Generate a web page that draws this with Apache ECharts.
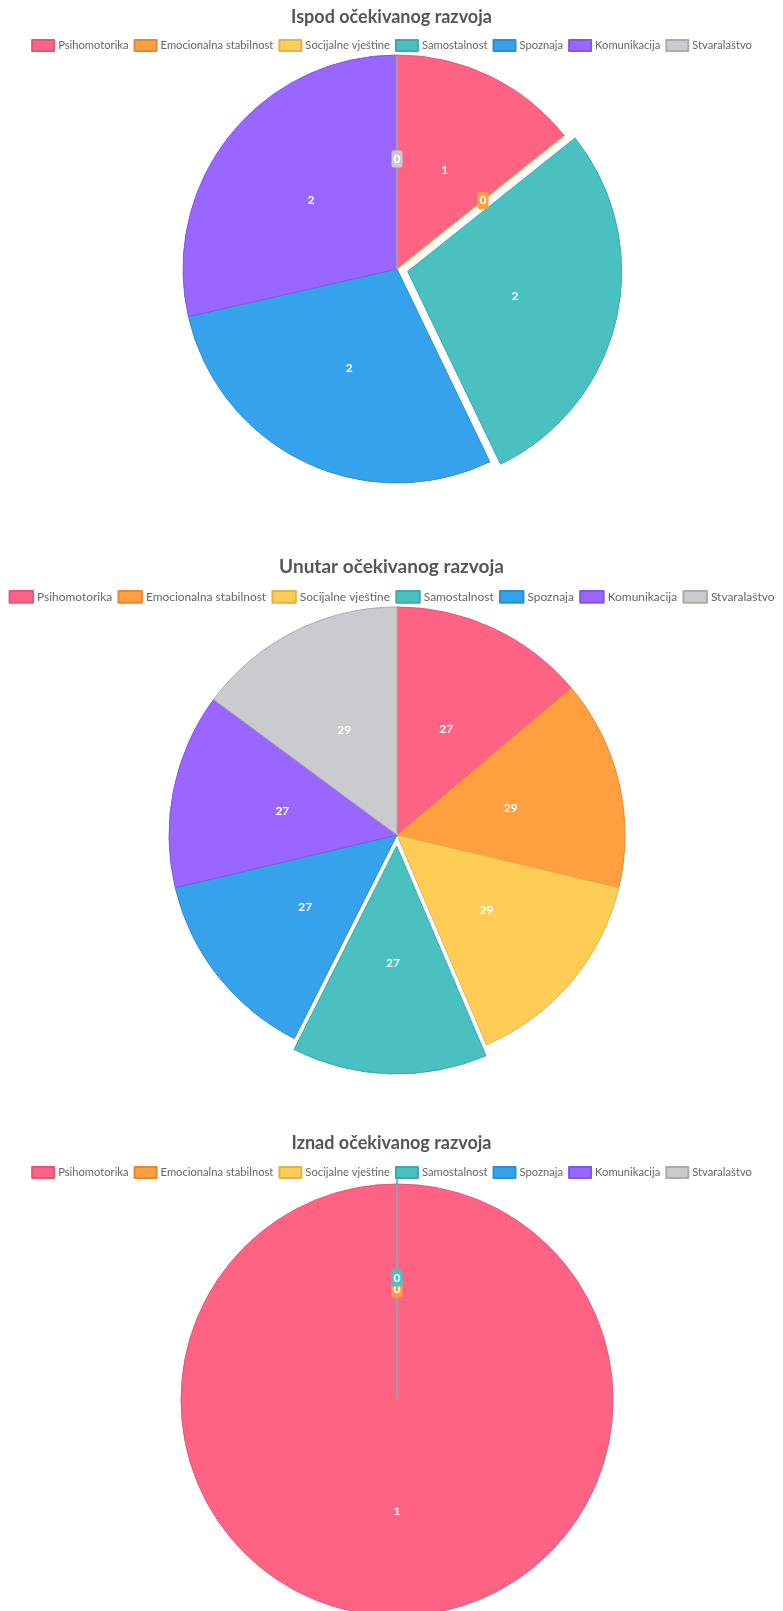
<!DOCTYPE html>
<html>
<head>
<meta charset="utf-8">
<title>Razvoj</title>
<script src="https://cdn.jsdelivr.net/npm/echarts@6/dist/echarts.min.js"></script>
<style>
  body { margin: 0; background: #fff; }
  #main { width: 783px; height: 1611px; }
</style>
</head>
<body>
<div id="main"></div>
<script>
// podaci
var categories = ['Psihomotorika', 'Emocionalna stabilnost', 'Socijalne vještine', 'Samostalnost', 'Spoznaja', 'Komunikacija', 'Stvaralaštvo'];
var titles = ['Ispod očekivanog razvoja', 'Unutar očekivanog razvoja', 'Iznad očekivanog razvoja'];
var ispod = [1, 0, 0, 2, 2, 2, 0];
var unutar = [27, 29, 29, 27, 27, 27, 29];
var iznad = [1, 0, 0, 0, 0, 0, 0];

var colors = ['#ff6384', '#ff9f40', '#ffcd56', '#4bc0c0', '#36a2eb', '#9966ff', '#c9cbcf'];
var borders = ['#e5577a', '#e08a35', '#e0b448', '#3fa9a9', '#2e8fd0', '#8358e0', '#a9abaf'];

var chart = echarts.init(document.getElementById('main'));

// raspored svakog kruga
var layout = [
  { titleTop: 8, legendTop: 39, cy: 269, r: 214, s: 1 },
  { titleTop: 557, legendTop: 590, cy: 835, r: 228, s: 1.066 },
  { titleTop: 1134, legendTop: 1166, cy: 1400, r: 216, s: 1 }
];
var allData = [ispod, unutar, iznad];
var hiddenLabels = [[2], [], [2, 4, 5, 6]]; // nule koje original ne ispisuje

var title = [], legend = [], series = [];
layout.forEach(function (L, k) {
  title.push({
    text: titles[k],
    left: 'center',
    top: L.titleTop,
    padding: 0,
    textStyle: { fontFamily: 'Lato', fontSize: Math.round(18 * L.s), fontWeight: 'bold', color: '#555' }
  });
  legend.push({
    data: categories,
    top: L.legendTop,
    left: 'center',
    width: 783,
    padding: 0,
    itemWidth: 22 * L.s,
    itemHeight: 11 * L.s,
    itemGap: 5 * L.s,
    icon: 'rect',
    selectedMode: false,
    textStyle: { fontFamily: 'Lato', fontSize: 11.2 * L.s, color: '#666', padding: [0, 0, 0, -1] }
  });
  var vals = allData[k];
  series.push({
    type: 'pie',
    center: [397, L.cy],
    radius: [0, L.r],
    startAngle: 90,
    clockwise: true,
    selectedMode: 'multiple',
    selectedOffset: 11,
    animation: false,
    emphasis: { disabled: true },
    labelLayout: { hideOverlap: false },
    label: {
      show: true,
      position: 'inside',
      formatter: '{c}',
      color: '#fff',
      fontFamily: 'Lato',
      fontWeight: 'bold',
      fontSize: Math.round(11.5 * L.s),
      padding: [3, 2, 2, 2],
      borderRadius: 2
    },
    labelLine: { show: false },
    data: categories.map(function (name, i) {
      var hide = hiddenLabels[k].indexOf(i) >= 0;
      return {
        name: name,
        value: vals[i],
        selected: name === 'Samostalnost',
        itemStyle: { color: colors[i], borderColor: borders[i], borderWidth: 1 },
        label: { show: !hide, backgroundColor: vals[i] === 0 ? colors[i] : 'transparent' }
      };
    })
  });
});

chart.setOption({ title: title, legend: legend, series: series });
</script>
</body>
</html>
